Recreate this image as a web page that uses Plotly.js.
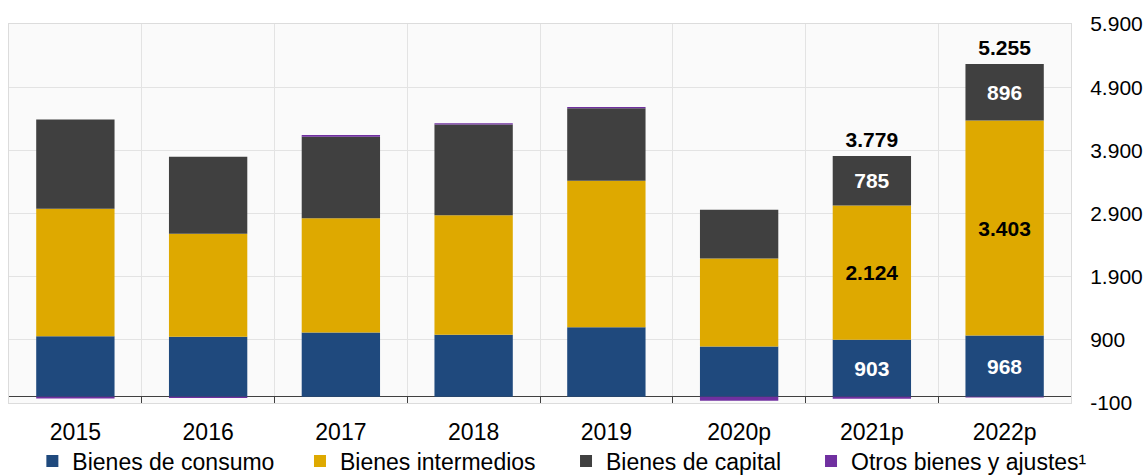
<!DOCTYPE html>
<html><head><meta charset="utf-8">
<script src="https://cdn.plot.ly/plotly-3.0.1.min.js"></script>
<style>html,body{margin:0;padding:0;background:#fff}</style>
</head><body><div id="chart" style="width:1145px;height:476px"></div>
<script>
// ---- data ----
const categories = ['2015', '2016', '2017', '2018', '2019', '2020p', '2021p', '2022p'];
const bienesConsumo = [958, 948, 1016, 980, 1101, 795, 903, 968];
const bienesIntermedios = [2018, 1633, 1807, 1891, 2317, 1391, 2124, 3403];
const bienesCapital = [1412, 1216, 1291, 1438, 1149, 774, 785, 896];
const otrosAjustes = [-30, -20, 30, 20, 20, -65, -33, -12];
const labeledYears = ['2021p', '2022p'];
const seriesNames = ['Bienes de consumo', 'Bienes intermedios', 'Bienes de capital', 'Otros bienes y ajustes¹'];
const yTickValues = [-100, 900, 1900, 2900, 3900, 4900, 5900];

// ---- derived ----
const allSeries = [bienesConsumo, bienesIntermedios, bienesCapital, otrosAjustes];
const totals = categories.map((c, i) => allSeries.reduce((s, a) => s + a[i], 0));
const positiveTop = categories.map((c, i) => allSeries.reduce((s, a) => s + Math.max(0, a[i]), 0));
const labelTpl = categories.map(c => labeledYears.includes(c) ? '%{y:,.0f}' : '');
const totalTpl = categories.map(c => labeledYears.includes(c) ? '%{customdata:,.0f}' : '');
const fmtEs = v => (v < 0 ? '-' : '') + String(Math.abs(v)).replace(/\B(?=(\d{3})+(?!\d))/g, '.');
const yTickText = yTickValues.map(fmtEs);

const FONT = '"Liberation Sans", Arial, sans-serif';
const colors = ['#1f497d', '#dea900', '#404040', '#7030a0'];
const textColors = ['#ffffff', '#000000', '#ffffff', '#ffffff'];
const legendIds = ['legend', 'legend2', 'legend3', 'legend4'];

const traces = allSeries.map((vals, k) => ({
  type: 'bar',
  name: seriesNames[k],
  x: categories,
  y: vals,
  marker: {color: colors[k], line: {width: 0}},
  texttemplate: k === 3 ? undefined : labelTpl,
  textposition: k === 3 ? 'none' : 'inside',
  insidetextanchor: 'middle',
  constraintext: 'none',
  textangle: 0,
  textfont: {family: FONT, size: 21, weight: 'bold', color: textColors[k]},
  legend: legendIds[k],
  hoverinfo: 'x+y+name'
}));

traces.push({
  type: 'scatter',
  mode: 'markers+text',
  x: categories,
  y: positiveTop,
  customdata: totals,
  texttemplate: totalTpl,
  textposition: 'top center',
  marker: {size: 5, color: 'rgba(0,0,0,0)'},
  textfont: {family: FONT, size: 21, weight: 'bold', color: '#000'},
  showlegend: false,
  cliponaxis: false,
  hoverinfo: 'skip'
});

const legendBase = {
  orientation: 'h', yanchor: 'middle', y: -0.153, xanchor: 'left',
  font: {family: FONT, size: 23, color: '#000'},
  bgcolor: 'rgba(0,0,0,0)', borderwidth: 0, itemclick: false, itemdoubleclick: false
};

const layout = {
  width: 1145, height: 476,
  separators: ',.',
  margin: {l: 9, r: 74, t: 24, b: 73, pad: 0, autoexpand: false},
  paper_bgcolor: '#ffffff',
  plot_bgcolor: '#fafafa',
  barmode: 'relative',
  bargap: 0.41,
  font: {family: FONT, color: '#000'},
  xaxis: {
    type: 'category',
    tickson: 'boundaries',
    ticks: 'inside', ticklen: 6, tickwidth: 1, tickcolor: '#404040',
    showgrid: true, gridcolor: '#e3e3e3', gridwidth: 1,
    showline: true, mirror: true, linecolor: '#dcdcdc', linewidth: 1,
    tickfont: {family: FONT, size: 23, color: '#000'},
    ticklabelstandoff: 8,
    automargin: false,
    fixedrange: true
  },
  yaxis: {
    side: 'right',
    range: [-100, 5900],
    tickmode: 'array',
    tickvals: yTickValues,
    ticktext: yTickText,
    showgrid: true, gridcolor: '#e3e3e3', gridwidth: 1,
    zeroline: true, zerolinecolor: '#404040', zerolinewidth: 1,
    showline: true, mirror: true, linecolor: '#dcdcdc', linewidth: 1,
    ticks: '',
    tickfont: {family: FONT, size: 21, color: '#000'},
    ticklabelstandoff: 14,
    automargin: false,
    fixedrange: true
  },
  showlegend: true,
  legend: Object.assign({}, legendBase, {x: 0.022}),
  legend2: Object.assign({}, legendBase, {x: 0.274}),
  legend3: Object.assign({}, legendBase, {x: 0.5245}),
  legend4: Object.assign({}, legendBase, {x: 0.7552})
};

Plotly.newPlot('chart', traces, layout, {displayModeBar: false, staticPlot: true});
</script>
</body></html>
